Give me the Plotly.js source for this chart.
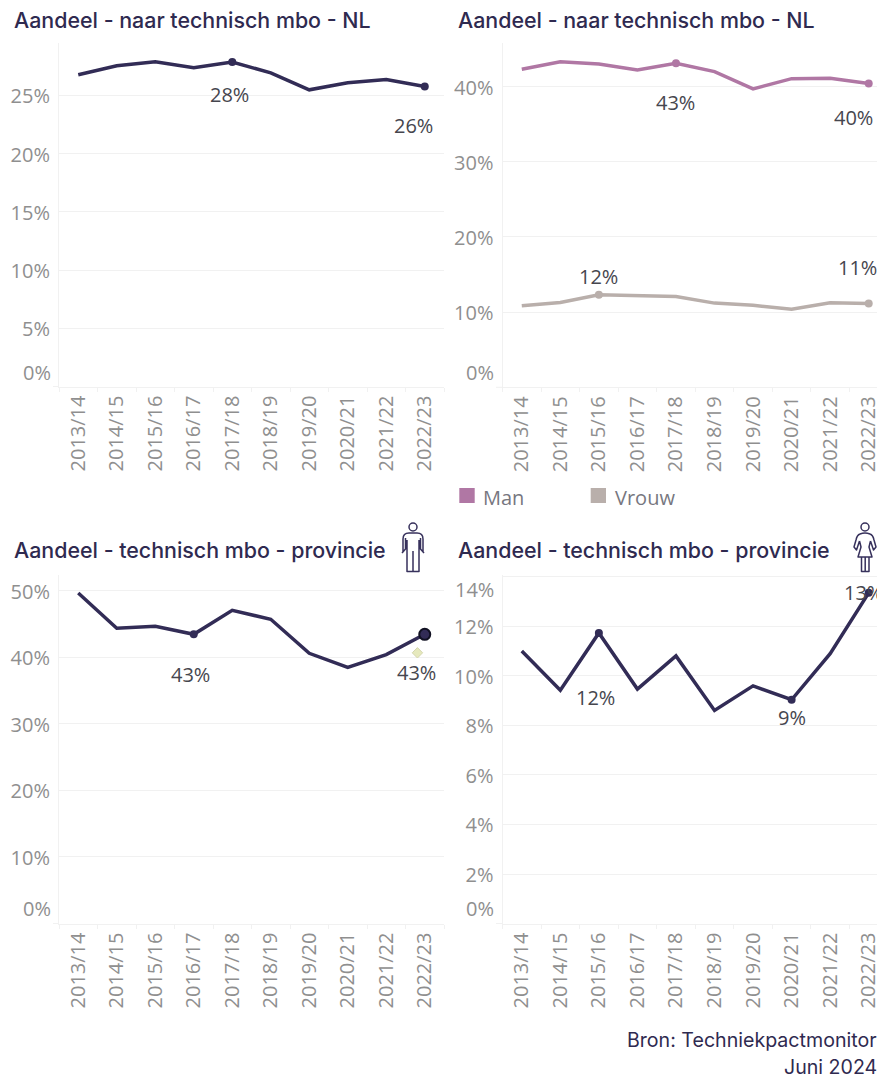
<!DOCTYPE html>
<html>
<head>
<meta charset="utf-8">
<script src="https://cdn.plot.ly/plotly-3.0.1.min.js"></script>
<style>html,body{margin:0;padding:0;background:#fff;overflow:hidden}#chart{width:877px;height:1077px}</style>
</head>
<body>
<div id="chart"></div>
<script>
const years = ['2013/14','2014/15','2015/16','2016/17','2017/18','2018/19','2019/20','2020/21','2021/22','2022/23'];
const nlAll = [26.77,27.54,27.89,27.37,27.86,26.94,25.48,26.08,26.37,25.77];
const nlMan = [42.3,43.3,43.0,42.2,43.1,42.0,39.7,41.06,41.1,40.4];
const nlVrouw = [10.84,11.29,12.3,12.2,12.08,11.2,10.9,10.4,11.24,11.15];
const provMan = [49.7,44.39,44.69,43.48,47.09,45.74,40.63,38.52,40.43,43.48];
const provVrouw = [11.01,9.42,11.74,9.47,10.81,8.61,9.6,9.04,10.9,13.36];
const refPointX = [8.81];
const refPointY = [40.7];
const ticks1 = [0,5,10,15,20,25];
const ticks2 = [0,10,20,30,40];
const ticks3 = [0,10,20,30,40,50];
const ticks4 = [0,2,4,6,8,10,12,14];
const titleTop = 'Aandeel - naar technisch mbo - NL';
const titleBottom = 'Aandeel - technisch mbo - provincie';
const sourceLines = ['Bron: Techniekpactmonitor','Juni 2024'];
const legendNames = ['Man','Vrouw'];

const W = 877, H = 1077;
const DARK = '#322c56', MAN = '#b077a4', VROUW = '#b9afab';
const GRID = '#f1f1f1', TICK = '#8f8f8f', LABEL = '#46464e', TITLE = '#2f2a50';
const FONT = '"Open Sans", sans-serif', TFONT = 'Inter, sans-serif';
const px = x => x / W, py = y => 1 - y / H;

function xAxis(l, r, anchor, rangeEnd) {
  return {
    type: 'category', categoryorder: 'array', categoryarray: years, anchor,
    domain: [px(l), px(r)], range: [-0.5, rangeEnd],
    tickangle: -90, tickson: 'boundaries', ticks: 'outside', ticklen: 4, tickwidth: 1, tickcolor: GRID,
    tickfont: {family: FONT, size: 20, color: TICK}, showgrid: false, showline: true, linecolor: GRID, linewidth: 1,
    zeroline: false, fixedrange: true
  };
}
function yAxis(top, bottom, max, vals, anchor) {
  return {
    anchor, domain: [py(bottom), py(top)], range: [0, max],
    tickmode: 'array', tickvals: vals,
    ticktext: vals.map(v => (v === 0 ? '' : v + '%')),
    tickfont: {family: FONT, size: 20, color: TICK}, ticks: '', ticklen: 0, ticklabelstandoff: 4, ticklabelshift: 1,
    showgrid: true, gridcolor: GRID, gridwidth: 1, showline: true, linecolor: GRID, linewidth: 1, zeroline: false, fixedrange: true
  };
}
function line(y, color, xa, ya, name, dots) {
  return {
    type: 'scatter', mode: 'lines+markers', x: years, y, xaxis: xa, yaxis: ya, name, showlegend: false,
    line: {color, width: 3.5, shape: 'linear'},
    marker: {color, opacity: 1, line: {width: 0}, size: years.map((_, i) => dots.includes(i) ? 8 : 0.1)},
    cliponaxis: false, hoverinfo: 'x+y'
  };
}

const data = [
  line(nlAll, DARK, 'x', 'y', 'Totaal', [4, 9]),
  line(nlMan, MAN, 'x2', 'y2', legendNames[0], [4, 9]),
  line(nlVrouw, VROUW, 'x2', 'y2', legendNames[1], [2, 9]),
  line(provMan, DARK, 'x3', 'y3', 'Man provincie', [3]),
  line(provVrouw, DARK, 'x4', 'y4', 'Vrouw provincie', [2, 7, 9]),
  {type: 'scatter', mode: 'markers', x: [years[9]], y: [provMan[9]], xaxis: 'x3', yaxis: 'y3', showlegend: false,
    marker: {color: DARK, size: 11, line: {color: '#111122', width: 2}}, cliponaxis: false, hoverinfo: 'skip'},
  {type: 'scatter', mode: 'markers', x: refPointX, y: refPointY, xaxis: 'x5', yaxis: 'y3', showlegend: false,
    marker: {symbol: 'diamond', color: '#e6e9bd', size: 8, line: {color: '#d4d6ae', width: 1}}, hoverinfo: 'skip'}
];

function lab(xa, ya, i, series, text, dx, dy) {
  return {xref: xa, yref: ya, x: i, y: series[i], text, showarrow: false, xshift: dx, yshift: dy,
    font: {family: FONT, size: 20, color: LABEL}, xanchor: 'center', yanchor: 'middle'};
}
function edgeTick(ya, v, text, dy, x) {
  return {xref: 'paper', yref: ya, x: px(x), y: v, text, showarrow: false, yshift: dy, xanchor: 'right', yanchor: 'middle',
    font: {family: FONT, size: 20, color: TICK}};
}
function ttl(text, x, y) {
  return {xref: 'paper', yref: 'paper', x: px(x), y: py(y), text, showarrow: false, xanchor: 'left', yanchor: 'middle',
    font: {family: TFONT, size: 21.4, color: TITLE, weight: 500}};
}
const annotations = [
  ttl(titleTop, 12, 20), ttl(titleTop, 456, 20), ttl(titleBottom, 12, 550), ttl(titleBottom, 456, 550),
  lab('x','y',4,nlAll,'28%',-3,-32), lab('x','y',9,nlAll,'26%',-11,-39),
  lab('x2','y2',4,nlMan,'43%',0,-39), lab('x2','y2',9,nlMan,'40%',-15,-34),
  lab('x2','y2',2,nlVrouw,'12%',0,18), lab('x2','y2',9,nlVrouw,'11%',-11,36),
  lab('x3','y3',3,provMan,'43%',-3,-40), lab('x3','y3',9,provMan,'43%',-8,-38),
  lab('x4','y4',2,provVrouw,'12%',-3,-65), lab('x4','y4',7,provVrouw,'9%',0,-18), lab('x4','y4',9,provVrouw,'13%',-5,0),
  edgeTick('y', 0, '0%', 14, 52.5), edgeTick('y2', 0, '0%', 15, 495.5),
  edgeTick('y3', 0, '0%', 15, 52.5), edgeTick('y4', 0, '0%', 15, 495.5), edgeTick('y4', 14, '14%', -13, 495.5),
  {xref:'paper',yref:'paper',x:px(481),y:py(497),text:legendNames[0],showarrow:false,xanchor:'left',yanchor:'middle',font:{family:FONT,size:20,color:'#77777f'}},
  {xref:'paper',yref:'paper',x:px(613),y:py(497),text:legendNames[1],showarrow:false,xanchor:'left',yanchor:'middle',font:{family:FONT,size:20,color:'#77777f'}},
  {xref:'paper',yref:'paper',x:1,xshift:2,y:py(1040),text:sourceLines[0],showarrow:false,xanchor:'right',yanchor:'middle',font:{family:TFONT,size:19.6,color:TITLE,weight:400}},
  {xref:'paper',yref:'paper',x:1,xshift:2,y:py(1067),text:sourceLines[1],showarrow:false,xanchor:'right',yanchor:'middle',font:{family:TFONT,size:19.6,color:TITLE,weight:400}}
];

const top1 = 43, bot1 = 386.5, bot1b = 387.3, top2 = 575, bot2 = 923.5;

function stub(x0, x1, y) {
  return {type:'line',xref:'paper',yref:'paper',x0:px(x0),x1:px(x1),y0:py(y),y1:py(y),line:{color:GRID,width:1}};
}
const shapes = [
  {type:'rect',xref:'paper',yref:'paper',x0:px(459.3),x1:px(474.7),y0:py(503),y1:py(488),fillcolor:MAN,line:{width:0}},
  {type:'rect',xref:'paper',yref:'paper',x0:px(590.7),x1:px(606),y0:py(503),y1:py(488),fillcolor:VROUW,line:{width:0}},
  stub(53,59,bot1), stub(496,502.5,bot1b), stub(53,59,bot2), stub(496,502.5,bot2)
];

const stroke = 'fill="none" stroke="#37315c" stroke-width="1.5" stroke-linejoin="round"';
const manSvg = `<svg xmlns="http://www.w3.org/2000/svg" width="30" height="54" viewBox="0 0 30 54"><g ${stroke}><circle cx="15" cy="7" r="4"/><path d="M5 32L5 19Q5 13 11 13L19 13Q25 13 25 19L25 32M4 33L7.5 29L7.5 18M26 33L22.5 29L22.5 18M9 20L9 51.5L21 51.5L21 20M15 31L15 51.5"/></g></svg>`;
const womanSvg = `<svg xmlns="http://www.w3.org/2000/svg" width="26" height="54" viewBox="0 0 26 54"><g ${stroke}><circle cx="13" cy="7" r="4"/><path d="M8 14Q13 12 18 14Q21 15 22 20L24 27L21.5 30L18.5 21M8 14Q5 15 4 20L2 27L4.5 30L7.5 21M7.5 21L9 27L6 37L20 37L17 27L18.5 21M9.5 37L9.5 51.5L17 51.5L17 37M13.2 37L13.2 51.5"/></g></svg>`;
const enc = s => 'data:image/svg+xml;utf8,' + encodeURIComponent(s);
const images = [
  {source: enc(manSvg), xref:'paper', yref:'paper', x:px(398), y:py(520), sizex:30/W, sizey:54/H, xanchor:'left', yanchor:'top', sizing:'stretch', layer:'above'},
  {source: enc(womanSvg), xref:'paper', yref:'paper', x:px(852), y:py(520), sizex:26/W, sizey:54/H, xanchor:'left', yanchor:'top', sizing:'stretch', layer:'above'}
];

const layout = {
  width: W, height: H, margin: {l:0,r:0,t:0,b:0}, paper_bgcolor:'#fff', plot_bgcolor:'#fff', showlegend:false,
  hovermode:'closest',
  xaxis: xAxis(59, 444, 'y', 9.5),
  yaxis: yAxis(top1, bot1, 29.5, ticks1, 'x'),
  xaxis2: xAxis(502.5, 877, 'y2', 9.215),
  yaxis2: yAxis(top1, bot1b, 45.8, ticks2, 'x2'),
  xaxis3: xAxis(59, 444, 'y3', 9.5),
  yaxis3: yAxis(top2, bot2, 52.4, ticks3, 'x3'),
  xaxis4: xAxis(502.5, 877, 'y4', 9.215),
  yaxis4: yAxis(top2, bot2, 14.08, ticks4, 'x4'),
  xaxis5: {overlaying:'x3', anchor:'y3', type:'linear', range:[-0.5,9.5], visible:false, fixedrange:true},
  annotations, shapes, images
};
layout.yaxis4.ticktext = ticks4.map(v => (v === 0 || v === 14) ? '' : v + '%');
Plotly.newPlot('chart', data, layout, {displayModeBar:false, responsive:false});
</script>
</body>
</html>
